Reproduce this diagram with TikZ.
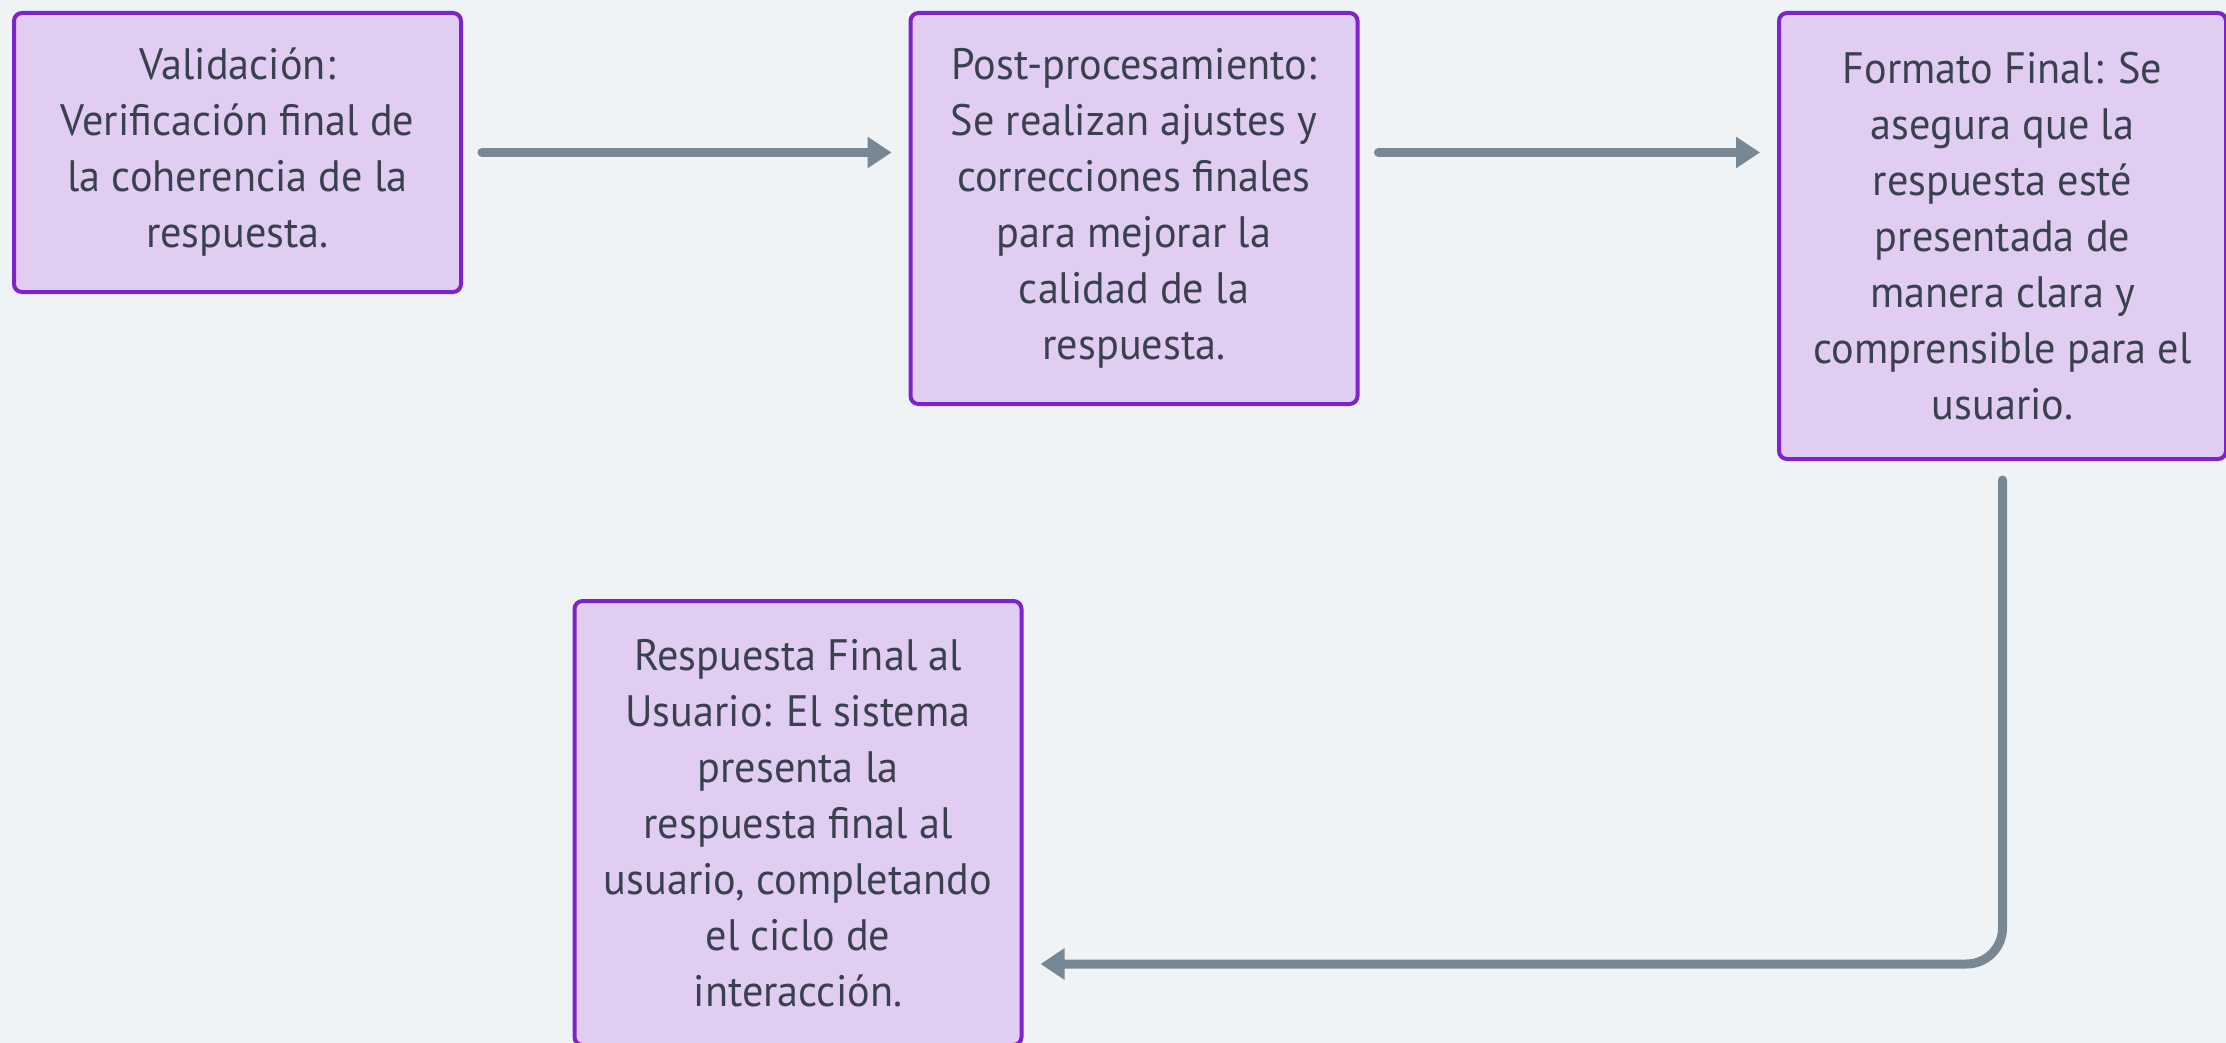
\documentclass[tikz,border=0pt]{standalone}
\usepackage{fontspec}
\setmainfont[FakeStretch=0.96]{PT Sans}
\usepackage{xcolor}
\usepackage{tikz}
\usetikzlibrary{arrows.meta, positioning}

\definecolor{bgcol}{HTML}{EFF3F6}
\definecolor{boxfill}{HTML}{E2CDF2}
\definecolor{boxline}{HTML}{7E22CE}
\definecolor{arrcol}{HTML}{778894}
\definecolor{txtcol}{HTML}{3A414E}

\begin{document}
\begin{tikzpicture}[
  x=1pt, y=-1pt,
  box/.style={draw=boxline, fill=boxfill, line width=4pt, rounded corners=8pt,
    minimum width=447pt, anchor=north, align=center, text=txtcol,
    font=\fontsize{44}{56}\selectfont},
  arr/.style={draw=arrcol, line width=9pt, line cap=round,
    -{Triangle[length=24pt,width=30pt]}, shorten <=19pt, shorten >=17pt}
]
\fill[bgcol] (0,0) rectangle (2226,1043);
\useasboundingbox (0,0) rectangle (2226,1043);

\node[box, minimum height=279pt] (val) at (237.5,11) {Validación:\\Verificación final de\\la coherencia de la\\respuesta.};
\node[box, minimum height=391pt] (post) at (1134,11) {Post-procesamiento:\\Se realizan ajustes y\\correcciones finales\\para mejorar la\\calidad de la\\respuesta.};
\node[box, minimum height=446pt] (fmt) at (2002.5,11) {Formato Final: Se\\asegura que la\\respuesta esté\\presentada de\\manera clara y\\comprensible para el\\usuario.};
\node[box, minimum height=444pt] (resp) at (798,599) {Respuesta Final al\\Usuario: El sistema\\presenta la\\respuesta final al\\usuario, completando\\el ciclo de\\interacción.};

\draw[arr] (val.east) -- (val.east -| post.west);
\draw[arr] (val.east -| post.east) -- (val.east -| fmt.west);
\draw[arr, rounded corners=36pt] (fmt.south) |- ([yshift=-141pt]resp.east);
\end{tikzpicture}
\end{document}
